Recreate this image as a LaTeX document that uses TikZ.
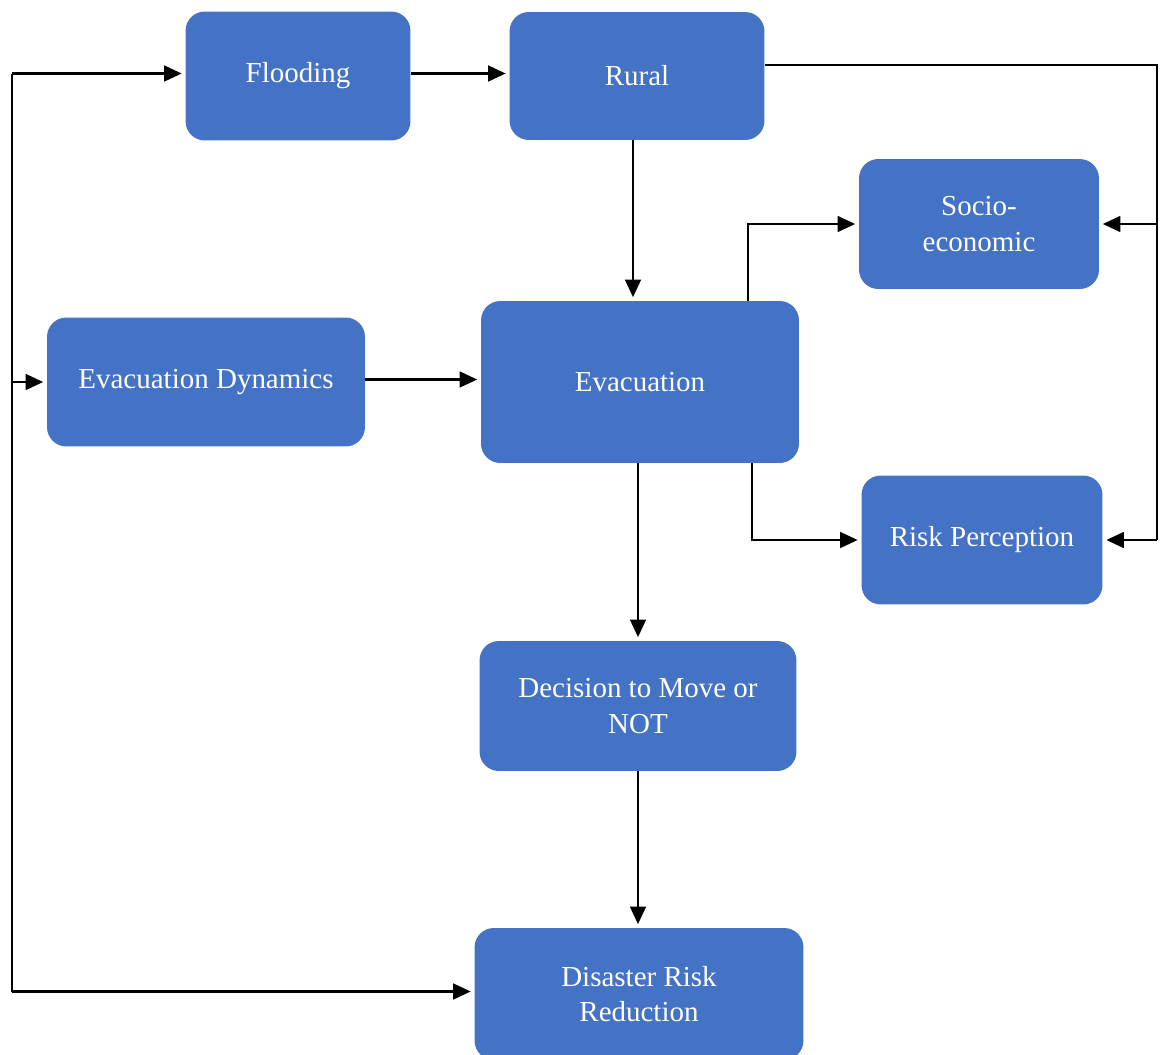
\documentclass[tikz,border=0pt]{standalone}
\usepackage{fontspec}
\setmainfont{Liberation Serif}
\usetikzlibrary{arrows.meta}
\definecolor{boxblue}{HTML}{4472C4}

\begin{document}
\begin{tikzpicture}[x=0.02cm, y=-0.02cm,
  box/.style={fill=boxblue, draw=none, rounded corners=11pt, align=center, inner sep=0pt,
    text=white, font=\fontsize{16.5}{20}\selectfont},
  link/.style={line width=1.3pt, black},
  arr/.style={link, -{Triangle[length=10pt,width=9pt]}, shorten >=2pt}]

\useasboundingbox (0,0) rectangle (1160,1055);

\node[box, minimum width=4.5cm, minimum height=2.58cm] at (298,76) (flood) {Flooding};
\node[box, minimum width=5.1cm, minimum height=2.56cm] at (637,76) (rural) {Rural};
\node[box, minimum width=4.8cm, minimum height=2.6cm] at (979,224) (socio) {Socio-\\economic};
\node[box, minimum width=6.36cm, minimum height=2.58cm] at (206,382) (evdyn) {Evacuation Dynamics};
\node[box, minimum width=6.36cm, minimum height=3.24cm] at (640,382) (evac) {Evacuation};
\node[box, minimum width=4.82cm, minimum height=2.58cm] at (982,540) (risk) {Risk Perception};
\node[box, minimum width=6.34cm, minimum height=2.6cm] at (638,706) (decide) {Decision to Move or\\NOT};
\node[box, minimum width=6.58cm, minimum height=2.64cm] at (639,994) (drr) {Disaster Risk\\Reduction};

\coordinate (lx) at (12,0);
\coordinate (rx) at (1157,0);

% left feedback line
\draw[link] ([yshift=0.05cm]flood.west -| lx) -- ([yshift=0.05cm]drr.west -| lx);
\draw[arr] ([yshift=0.05cm]flood.west -| lx) -- ([yshift=0.05cm]flood.west);
\draw[arr] (evdyn.west -| lx) -- (evdyn.west);
\draw[arr] ([yshift=0.05cm]drr.west -| lx) -- ([yshift=0.05cm]drr.west);

% main chain
\draw[arr] ([yshift=0.05cm]flood.east) -- ([yshift=0.05cm]rural.west);
\draw[arr] ([xshift=-0.08cm]rural.south) -- ([xshift=-0.08cm]rural.south |- evac.north);
\draw[arr] ([yshift=0.05cm]evdyn.east) -- ([yshift=0.05cm]evac.west);
\draw[arr] ([xshift=-0.04cm]evac.south) -- ([xshift=-0.04cm]evac.south |- decide.north);
\draw[arr] (decide.south) -- (decide.south |- drr.north);

% right side
\draw[link] ([yshift=0.22cm]rural.east) -| (risk.east -| rx);
\draw[arr] (socio.east -| rx) -- (socio.east);
\draw[arr] (risk.east -| rx) -- (risk.east);
\draw[arr] ([xshift=2.16cm]evac.north) |- (socio.west);
\draw[arr] ([xshift=2.24cm]evac.south) |- (risk.west);
\end{tikzpicture}
\end{document}
